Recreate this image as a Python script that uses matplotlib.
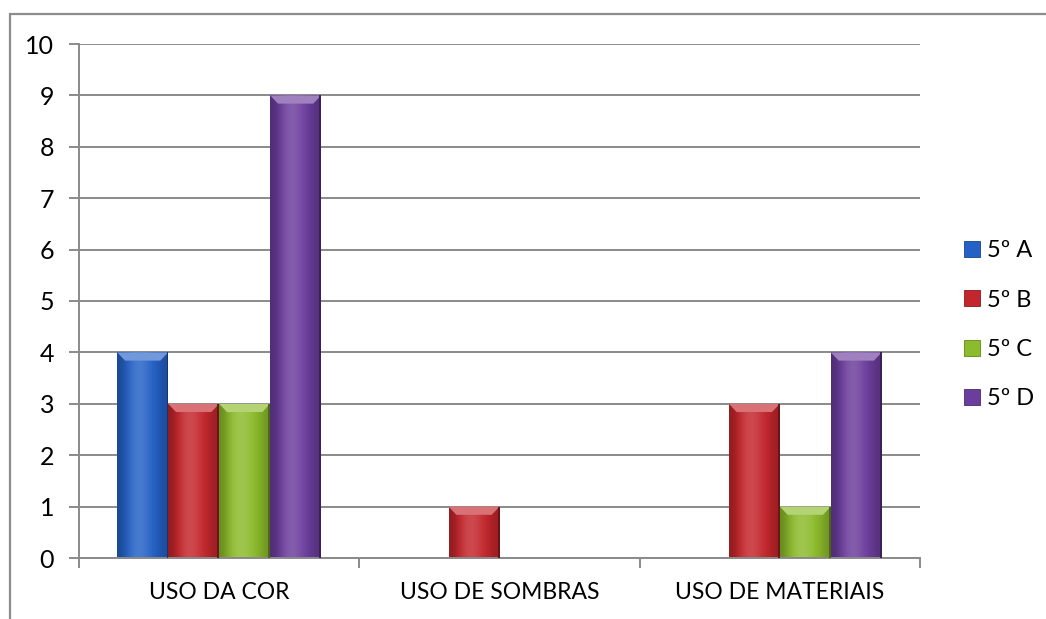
import numpy as np
import matplotlib
matplotlib.use("Agg")
import matplotlib.pyplot as plt
from matplotlib.patches import Rectangle, Polygon, Patch
from matplotlib.colors import to_rgb

plt.rcParams['font.family'] = ['Lato', 'DejaVu Sans']

categorias = ['USO DA COR', 'USO DE SOMBRAS', 'USO DE MATERIAIS']
turmas = ['5º A', '5º B', '5º C', '5º D']
valores = {
    '5º A': [4, 0, 0],
    '5º B': [3, 1, 3],
    '5º C': [3, 0, 1],
    '5º D': [9, 0, 4],
}
cores = ['#2461C6', '#C3262C', '#8CBB2B', '#6B3D9C']

W, H = 1046, 619
fig = plt.figure(figsize=(W / 100, H / 100), dpi=100)

# moldura do gráfico (cortada à direita e embaixo)
fig.patches.append(Rectangle((10 / W, -0.1), 1.2, 1.1 - 14 / H,
                             transform=fig.transFigure, fill=False,
                             edgecolor='#8c8c8c', lw=1.6, zorder=0))

ax = fig.add_axes([79 / W, 1 - 558 / H, 841 / W, 514 / H])
ax.set_xlim(-0.5, 2.5)
ax.set_ylim(0, 10)

ax.set_yticks(range(0, 11))
ax.yaxis.grid(True, color='#8a8a8a', lw=1.4)
ax.set_axisbelow(True)
for s in ['top', 'right']:
    ax.spines[s].set_visible(False)
for s in ['left', 'bottom']:
    ax.spines[s].set_color('#8a8a8a')
    ax.spines[s].set_linewidth(1.4)

ax.set_xticks([-0.5, 0.5, 1.5, 2.5])
ax.set_xticklabels([])
ax.set_xticks(range(len(categorias)), minor=True)
ax.set_xticklabels(categorias, minor=True)
ax.tick_params(axis='x', which='major', length=7, width=1.4, color='#8a8a8a')
ax.tick_params(axis='x', which='minor', length=0, pad=17, labelsize=16.5)
ax.tick_params(axis='y', length=7, width=1.4, color='#8a8a8a', pad=11,
               labelsize=18)


def shade(c, f):
    r = np.array(to_rgb(c))
    if f >= 0:
        return tuple(r + (1 - r) * f)
    return tuple(r * (1 + f))


largura = 1 / 5.5
x = np.arange(len(categorias))
# perfil horizontal do degradê (bordas escuras, centro claro)
perfil = np.array([-0.25, -0.05, 0.12, 0.18, 0.12, 0.02, -0.08, -0.2])
for i, (turma, cor) in enumerate(zip(turmas, cores)):
    vals = valores[turma]
    barras = ax.bar(x + (i - 1.5) * largura, vals, largura, color=cor,
                    edgecolor='none', zorder=2)
    for b, v in zip(barras, vals):
        if v <= 0:
            continue
        x0, w, h = b.get_x(), b.get_width(), b.get_height()
        img = np.array([[shade(cor, f) for f in perfil]])
        im = ax.imshow(img, extent=[x0, x0 + w, 0, h], aspect='auto',
                       interpolation='bicubic', zorder=2.5)
        im.set_clip_path(b)
        # chanfro no topo da barra
        dy, dx = 0.16, 0.028
        ax.add_patch(Polygon([(x0, h), (x0 + w, h), (x0 + w - dx, h - dy),
                              (x0 + dx, h - dy)], closed=True,
                             facecolor=shade(cor, 0.35), edgecolor='none',
                             zorder=3))
        ax.add_patch(Polygon([(x0 + w, h), (x0 + w, 0), (x0 + w - 0.006, 0),
                              (x0 + w - 0.006, h)], closed=True,
                             facecolor=shade(cor, -0.45), edgecolor='none',
                             zorder=3))

handles = [Patch(facecolor=c, edgecolor=shade(c, -0.3), lw=0.6) for c in cores]
fig.legend(handles, turmas, loc='upper left',
           bbox_to_anchor=(943 / W, 1 - 219 / H), frameon=False,
           fontsize=17, handlelength=0.68, handleheight=0.68,
           handletextpad=0.3, labelspacing=1.2, borderpad=0.4)

fig.savefig('out.png', dpi=100)
